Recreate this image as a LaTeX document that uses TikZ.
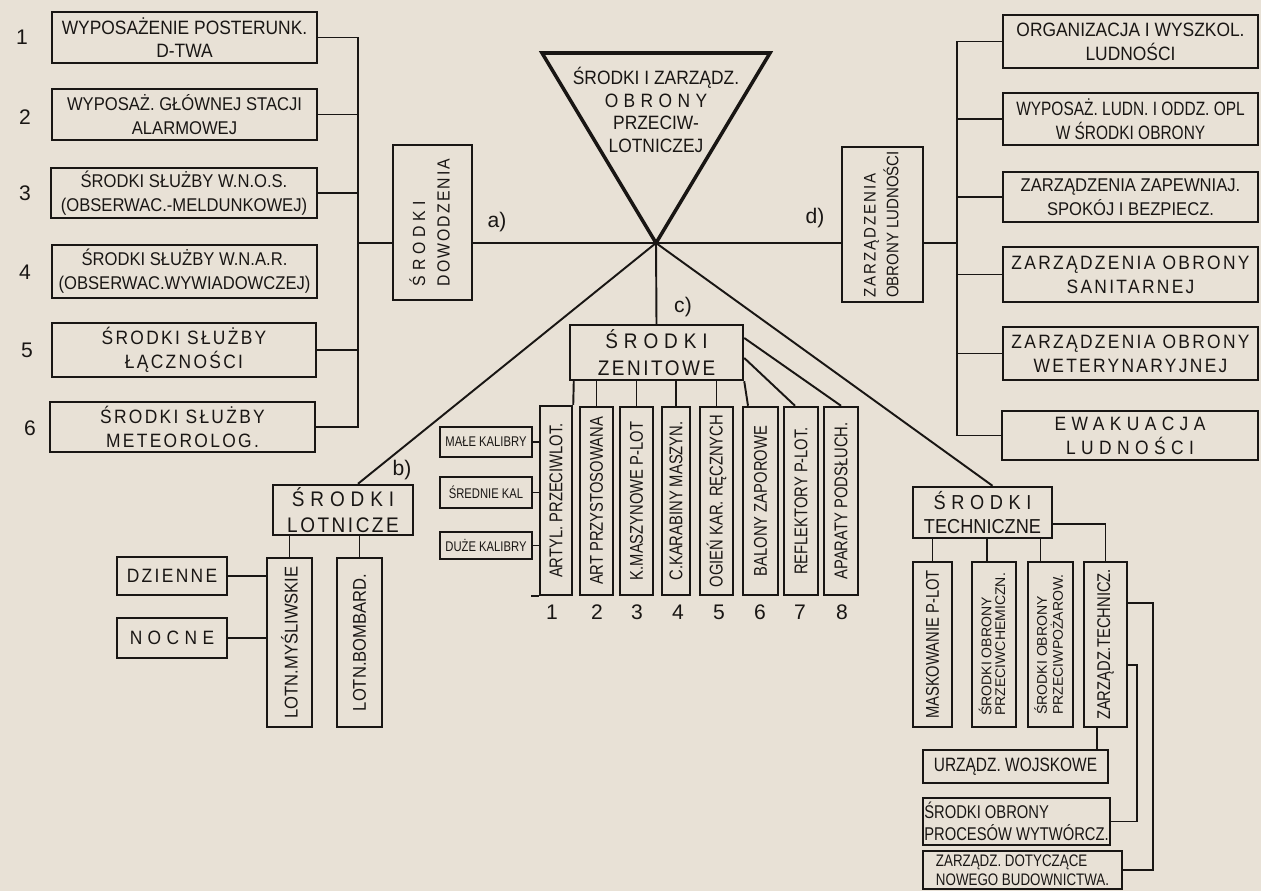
\documentclass[tikz,border=0pt]{standalone}
\usepackage{fontspec}
\usepackage{graphicx}
\setmainfont{Liberation Sans}
\newfontfamily\cond[FakeStretch=0.8]{Liberation Sans}
\newfontfamily\med[FakeStretch=0.9]{Liberation Sans}
\newfontfamily\medspc[FakeStretch=0.9,LetterSpace=12]{Liberation Sans}
\newfontfamily\medspcw[FakeStretch=0.9,LetterSpace=28]{Liberation Sans}
\newfontfamily\spc[LetterSpace=12]{Liberation Sans}
\newfontfamily\spcm[LetterSpace=20]{Liberation Sans}
\newfontfamily\spcw[LetterSpace=28]{Liberation Sans}
\newfontfamily\spcx[LetterSpace=40]{Liberation Sans}
\definecolor{paper}{RGB}{232,225,214}
\definecolor{ink}{RGB}{25,22,20}
\newcommand\fsz[2]{\fontsize{#1}{#2}\selectfont}
\tikzset{
  box/.style={draw=ink, line width=1.4pt, inner sep=0pt, align=center, text=ink, font=\med\fsz{11}{13.5}},
  colbox/.style={box, font=\cond\fsz{10.5}{12}},
  smallbox/.style={box, line width=1.2pt, font=\cond\fsz{8}{9}},
  conn/.style={draw=ink, line width=1.1pt},
  tri/.style={draw=ink, line width=2pt, line join=miter},
  lbl/.style={text=ink, inner sep=0pt, font=\fsz{12}{14}},
}
\newcommand\bx[7][]{\node[box,minimum width={(#5-#3)*0.02cm},minimum height={(#6-#4)*0.02cm},#1] (#2) at ({(#3+#5)/2},{(#4+#6)/2}) {#7};}
\begin{document}
\begin{tikzpicture}[x=0.02cm,y=-0.02cm]
\useasboundingbox (0,0) rectangle (1261,891);
\fill[paper] (0,0) rectangle (1261,891);

\coordinate (cen) at (656,243);
\coordinate (lbus) at (358,0);
\coordinate (rbus) at (957,0);
\coordinate (pbus) at (1137,0);
\coordinate (nbus) at (1153,0);

% triangle
\draw[tri] (542,53) -- (770,53) -- (cen) -- cycle;
\node[lbl, align=center, font=\med\fsz{11}{13}] (title) at (656,110)
  {ŚRODKI I ZARZĄDZ.\\{\medspcw OBRONY}\\PRZECIW-\\LOTNICZEJ};

% left column
\bx[font=\med\fsz{11}{13.5}]{L1}{52}{12}{317}{63}{WYPOSAŻENIE POSTERUNK.\\D-TWA}
\bx[font=\med\fsz{10.5}{13.5}]{L2}{52}{89}{317}{140}{WYPOSAŻ. GŁÓWNEJ STACJI\\ALARMOWEJ}
\bx[font=\med\fsz{10.5}{13.5}]{L3}{51}{168}{317}{218}{ŚRODKI SŁUŻBY W.N.O.S.\\(OBSERWAC.-MELDUNKOWEJ)}
\bx[font=\med\fsz{10.5}{13.5}]{L4}{52}{245}{317}{298}{ŚRODKI SŁUŻBY W.N.A.R.\\(OBSERWAC.WYWIADOWCZEJ)}
\bx[font=\medspc\fsz{11}{13.5}]{L5}{52}{323}{316}{377}{ŚRODKI SŁUŻBY\\ŁĄCZNOŚCI}
\bx[font=\medspc\fsz{11}{13.5}]{L6}{50}{402}{315}{452}{ŚRODKI SŁUŻBY\\METEOROLOG.}

\node[lbl] (n1) at (22,37) {1};
\node[lbl] (n2) at (25,117) {2};
\node[lbl] (n3) at (25,193) {3};
\node[lbl] (n4) at (25,272) {4};
\node[lbl] (n5) at (27,350) {5};
\node[lbl] (n6) at (30,428) {6};

\draw[conn] (L1.east) -- (L1.east -| lbus) -- (L6.east -| lbus) -- (L6.east);
\draw[conn] (L2.east) -- (L2.east -| lbus);
\draw[conn] (L3.east) -- (L3.east -| lbus);
\draw[conn] (L5.east) -- (L5.east -| lbus);

\bx[font=\med\fsz{10}{14}]{dow}{393}{145}{472}{300}{\rotatebox{90}{\begin{tabular}{@{}l@{}}{\medspcw ŚRODKI}\\{\medspc DOWODZENIA}\end{tabular}}}
\draw[conn] (cen -| lbus) -- (dow.west |- cen);

% right column
\bx[font=\med\fsz{9.5}{13}]{zar}{842}{147}{923}{302}{\rotatebox{90}{\begin{tabular}{@{}l@{}}{\medspc ZARZĄDZENIA}\\OBRONY LUDNOŚCI\end{tabular}}}
\draw[conn] (dow.east |- cen) -- (zar.west |- cen);
\bx[font=\med\fsz{11}{13.5}]{R1}{1003}{15}{1258}{68}{ORGANIZACJA I WYSZKOL.\\LUDNOŚCI}
\bx[font=\cond\fsz{11}{13.5}]{R2}{1003}{93}{1258}{145}{WYPOSAŻ. LUDN. I ODDZ. OPL\\W ŚRODKI OBRONY}
\bx[font=\med\fsz{10.5}{13.5}]{R3}{1003}{172}{1258}{222}{ZARZĄDZENIA ZAPEWNIAJ.\\SPOKÓJ I BEZPIECZ.}
\bx[font=\medspc\fsz{11}{13.5}]{R4}{1003}{247}{1258}{302}{ZARZĄDZENIA OBRONY\\SANITARNEJ}
\bx[font=\medspc\fsz{11}{13.5}]{R5}{1003}{327}{1258}{380}{ZARZĄDZENIA OBRONY\\WETERYNARYJNEJ}
\bx[font=\medspcw\fsz{11}{13.5}]{R6}{1002}{411}{1258}{460}{EWAKUACJA\\LUDNOŚCI}

\draw[conn] (zar.east |- cen) -- (cen -| rbus);
\draw[conn] (R1.west) -- (R1.west -| rbus) -- (R6.west -| rbus) -- (R6.west);
\draw[conn] (R2.west) -- (R2.west -| rbus);
\draw[conn] (R3.west) -- (R3.west -| rbus);
\draw[conn] (R4.west) -- (R4.west -| rbus);
\draw[conn] (R5.west) -- (R5.west -| rbus);

\node[lbl] (la) at (497,222) {a)};
\node[lbl] (ld) at (815,218) {d)};
\node[lbl] (lc) at (683,307) {c)};
\node[lbl] (lb) at (402,470) {b)};

% zenitowe
\bx[font=\med\fsz{12}{15}]{zen}{570}{325}{743}{380}{{\medspcw ŚRODKI}\\{\medspc ZENITOWE}}
\draw[conn] (cen) -- (zen.north);
\bx[colbox]{k1}{540}{406}{572}{595}{\rotatebox{90}{ARTYL. PRZECIWLOT.}}
\bx[colbox]{k2}{580}{407}{613}{595}{\rotatebox{90}{ART PRZYSTOSOWANA}}
\bx[colbox]{k3}{620}{407}{653}{595}{\rotatebox{90}{K.MASZYNOWE P-LOT}}
\bx[colbox]{k4}{662}{407}{690}{595}{\rotatebox{90}{C.KARABINY MASZYN.}}
\bx[colbox]{k5}{700}{407}{733}{595}{\rotatebox{90}{OGIEŃ KAR. RĘCZNYCH}}
\bx[colbox]{k6}{743}{407}{778}{595}{\rotatebox{90}{BALONY ZAPOROWE}}
\bx[colbox]{k7}{784}{407}{818}{595}{\rotatebox{90}{REFLEKTORY P-LOT.}}
\bx[colbox]{k8}{824}{407}{858}{595}{\rotatebox{90}{APARATY PODSŁUCH.}}
\draw[conn] ([xshift=0.1cm]zen.south west) -- (k1.north east);
\draw[conn] (k2.north) -- (k2.north |- zen.south);
\draw[conn] (k3.north) -- (k3.north |- zen.south);
\draw[conn] (k4.north) -- (k4.north |- zen.south);
\draw[conn] (k5.north) -- (k5.north |- zen.south);
\draw[conn] (zen.south east) -- ([xshift=-0.25cm]k6.north);
\draw[conn] ([yshift=-0.11cm]zen.east) -- ([xshift=-0.12cm]k7.north);
\draw[conn] ([yshift=0.29cm]zen.east) -- (k8.north);
\draw[conn] (k1.south west) -- ++(-8,0);

\node[lbl] (m1) at (552,612) {1};
\node[lbl] (m2) at (597,612) {2};
\node[lbl] (m3) at (637,612) {3};
\node[lbl] (m4) at (678,612) {4};
\node[lbl] (m5) at (719,612) {5};
\node[lbl] (m6) at (760,612) {6};
\node[lbl] (m7) at (800,612) {7};
\node[lbl] (m8) at (842,612) {8};

\bx[smallbox]{mk}{440}{427}{532}{457}{MAŁE KALIBRY}
\bx[smallbox]{sk}{440}{477}{532}{508}{ŚREDNIE KAL}
\bx[smallbox]{dk}{440}{532}{532}{559}{DUŻE KALIBRY}
\draw[conn] (mk.east) -- (mk.east -| k1.west);
\draw[conn] (sk.east) -- (sk.east -| k1.west);
\draw[conn] (dk.east) -- (dk.east -| k1.west);

% lotnicze
\bx[font=\med\fsz{12}{14.5}]{lot}{273}{485}{413}{535}{{\medspcw ŚRODKI}\\{\medspc LOTNICZE}}
\draw[conn] (cen) -- ([xshift=0.3cm]lot.north);
\bx[font=\med\fsz{10.5}{12}]{mys}{267}{558}{312}{727}{\rotatebox{90}{LOTN.MYŚLIWSKIE}}
\bx[font=\med\fsz{10.5}{12}]{bom}{337}{558}{382}{727}{\rotatebox{90}{LOTN.BOMBARD.}}
\draw[conn] (mys.north) -- (mys.north |- lot.south);
\draw[conn] (bom.north) -- (bom.north |- lot.south);
\bx[font=\medspc\fsz{11}{12}]{dz}{117}{557}{227}{595}{DZIENNE}
\bx[font=\medspcw\fsz{11}{12}]{nc}{117}{618}{227}{658}{NOCNE}
\draw[conn] (dz.east) -- (dz.east -| mys.west);
\draw[conn] (nc.east) -- (nc.east -| mys.west);

% techniczne
\bx[font=\med\fsz{11.5}{14}]{tech}{913}{487}{1052}{538}{{\medspcw ŚRODKI}\\TECHNICZNE}
\draw[conn] (cen) -- ([xshift=0.2cm]tech.north);
\bx[colbox]{t1}{913}{562}{952}{727}{\rotatebox{90}{MASKOWANIE P-LOT}}
\bx[font=\fsz{8}{7.5}]{t2}{972}{562}{1016}{727}{\rotatebox{90}{\begin{tabular}{@{}l@{}}ŚRODKI OBRONY\\PRZECIWCHEMICZN.\end{tabular}}}
\bx[font=\fsz{8}{7.5}]{t3}{1028}{562}{1073}{727}{\rotatebox{90}{\begin{tabular}{@{}l@{}}ŚRODKI OBRONY\\PRZECIWPOŻAROW.\end{tabular}}}
\bx[colbox]{t4}{1084}{562}{1127}{727}{\rotatebox{90}{ZARZĄDZ.TECHNICZ.}}
\draw[conn] (t1.north) -- (t1.north |- tech.south);
\draw[conn] ([xshift=-0.14cm]t2.north) -- ([xshift=-0.14cm]t2.north |- tech.south);
\draw[conn] ([xshift=-0.2cm]t3.north) -- ([xshift=-0.2cm]t3.north |- tech.south);
\draw[conn] ([yshift=-0.23cm]tech.east) -| (t4.north);

\bx[font=\cond\fsz{11}{12}]{woj}{923}{750}{1108}{783}{URZĄDZ. WOJSKOWE}
\draw[conn] ([xshift=-0.17cm]t4.south) -- ([xshift=-0.17cm]t4.south |- woj.north);
\bx[font=\cond\fsz{10.5}{12.5}, align=left]{proc}{923}{798}{1110}{845}{ŚRODKI OBRONY\\PROCESÓW WYTWÓRCZ.}
\bx[font=\cond\fsz{9.5}{11}, align=left]{bud}{923}{851}{1122}{889}{ZARZĄDZ. DOTYCZĄCE\\NOWEGO BUDOWNICTWA.}
\draw[conn] (proc.east) -- (proc.east -| pbus) |- ([yshift=-0.41cm]t4.east);
\draw[conn] (bud.east) -- (bud.east -| nbus) |- ([yshift=0.83cm]t4.east);
\end{tikzpicture}
\end{document}
